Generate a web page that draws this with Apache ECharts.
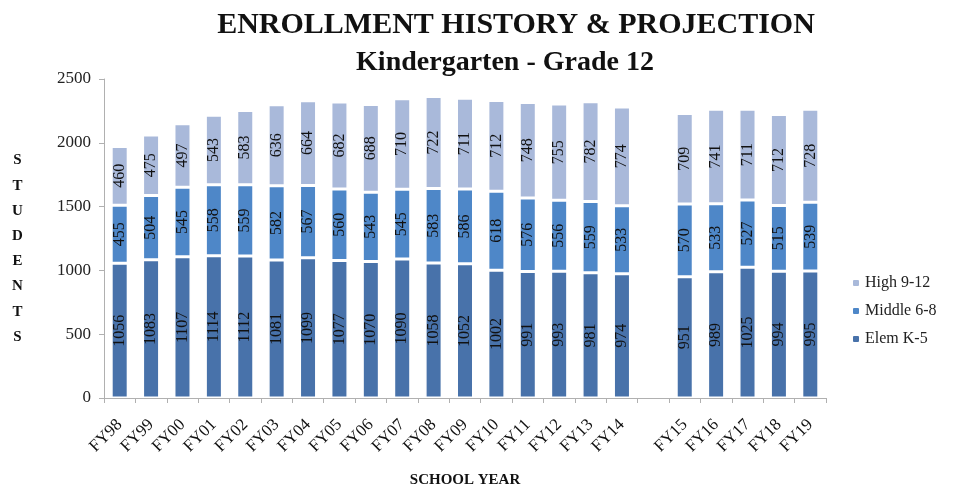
<!DOCTYPE html>
<html>
<head>
<meta charset="utf-8">
<script src="https://cdn.jsdelivr.net/npm/echarts@6/dist/echarts.min.js"></script>
<style>html,body{margin:0;padding:0;background:#fff}#c{width:958px;height:493px}</style>
</head>
<body>
<div id="c"></div>
<script>
const categories = ['FY98','FY99','FY00','FY01','FY02','FY03','FY04','FY05','FY06','FY07','FY08','FY09','FY10','FY11','FY12','FY13','FY14','','FY15','FY16','FY17','FY18','FY19'];
const elem   = [1056,1083,1107,1114,1112,1081,1099,1077,1070,1090,1058,1052,1002,991,993,981,974,null,951,989,1025,994,995];
const middle = [455,504,545,558,559,582,567,560,543,545,583,586,618,576,556,559,533,null,570,533,527,515,539];
const high   = [460,475,497,543,583,636,664,682,688,710,722,711,712,748,755,782,774,null,709,741,711,712,728];
const yTicks = [0,500,1000,1500,2000,2500];

const serif = '"Liberation Serif","DejaVu Serif",serif';
const chart = echarts.init(document.getElementById('c'));
const lbl = {show:true, rotate:90, position:'inside', color:'#111', fontFamily:serif, fontSize:16,
  formatter: p => (p.value == null ? '' : p.value)};
function s(name, data, color){
  return {name, type:'bar', stack:'t', data, barWidth:17,
    itemStyle:{color, borderColor:'#fff', borderWidth:1.5}, label:lbl};
}
chart.setOption({
  animation:false,
  textStyle:{fontFamily:serif},
  title:[
    {text:'ENROLLMENT HISTORY & PROJECTION', left:511, textAlign:'center', top:5,
      textStyle:{fontFamily:serif, fontWeight:'bold', fontSize:30, color:'#111'}},
    {text:'Kindergarten - Grade 12', left:500, textAlign:'center', top:44,
      textStyle:{fontFamily:serif, fontWeight:'bold', fontSize:28, color:'#111'}}
  ],
  legend:{orient:'vertical', left:846, top:270, itemWidth:8, itemHeight:8, itemGap:12,
    data:['High 9-12','Middle 6-8','Elem K-5'],
    textStyle:{fontFamily:serif, fontSize:16, color:'#222'}},
  grid:{left:104, right:132, top:79, bottom:93},
  graphic:[{type:'text', left:12, top:148, style:{text:'S\nT\nU\nD\nE\nN\nT\nS', font:'bold 15px '+serif, lineHeight:25.2, fill:'#111', textAlign:'center'}}],
  xAxis:{type:'category', data:categories, name:'SCHOOL YEAR', nameLocation:'middle', nameGap:75,
    nameTextStyle:{fontFamily:serif, fontWeight:'bold', fontSize:15, color:'#111'},
    axisLine:{lineStyle:{color:'#b0b0b0'}}, axisTick:{show:true, length:5, lineStyle:{color:'#b0b0b0'}},
    axisLabel:{rotate:45, interval:0, fontFamily:serif, fontSize:17, color:'#111', margin:24}},
  yAxis:{type:'value', min:0, max:2500, interval:500,
    axisLine:{show:true, lineStyle:{color:'#b0b0b0'}}, axisTick:{show:true, length:5, lineStyle:{color:'#b0b0b0'}},
    splitLine:{show:false},
    axisLabel:{fontFamily:serif, fontSize:17, color:'#222', margin:13,
      formatter: v => yTicks.includes(v) ? String(v) : ''}},
  series:[s('Elem K-5', elem, '#4872AA'), s('Middle 6-8', middle, '#4E87C8'), s('High 9-12', high, '#A9B9DA')]
});
</script>
</body>
</html>
